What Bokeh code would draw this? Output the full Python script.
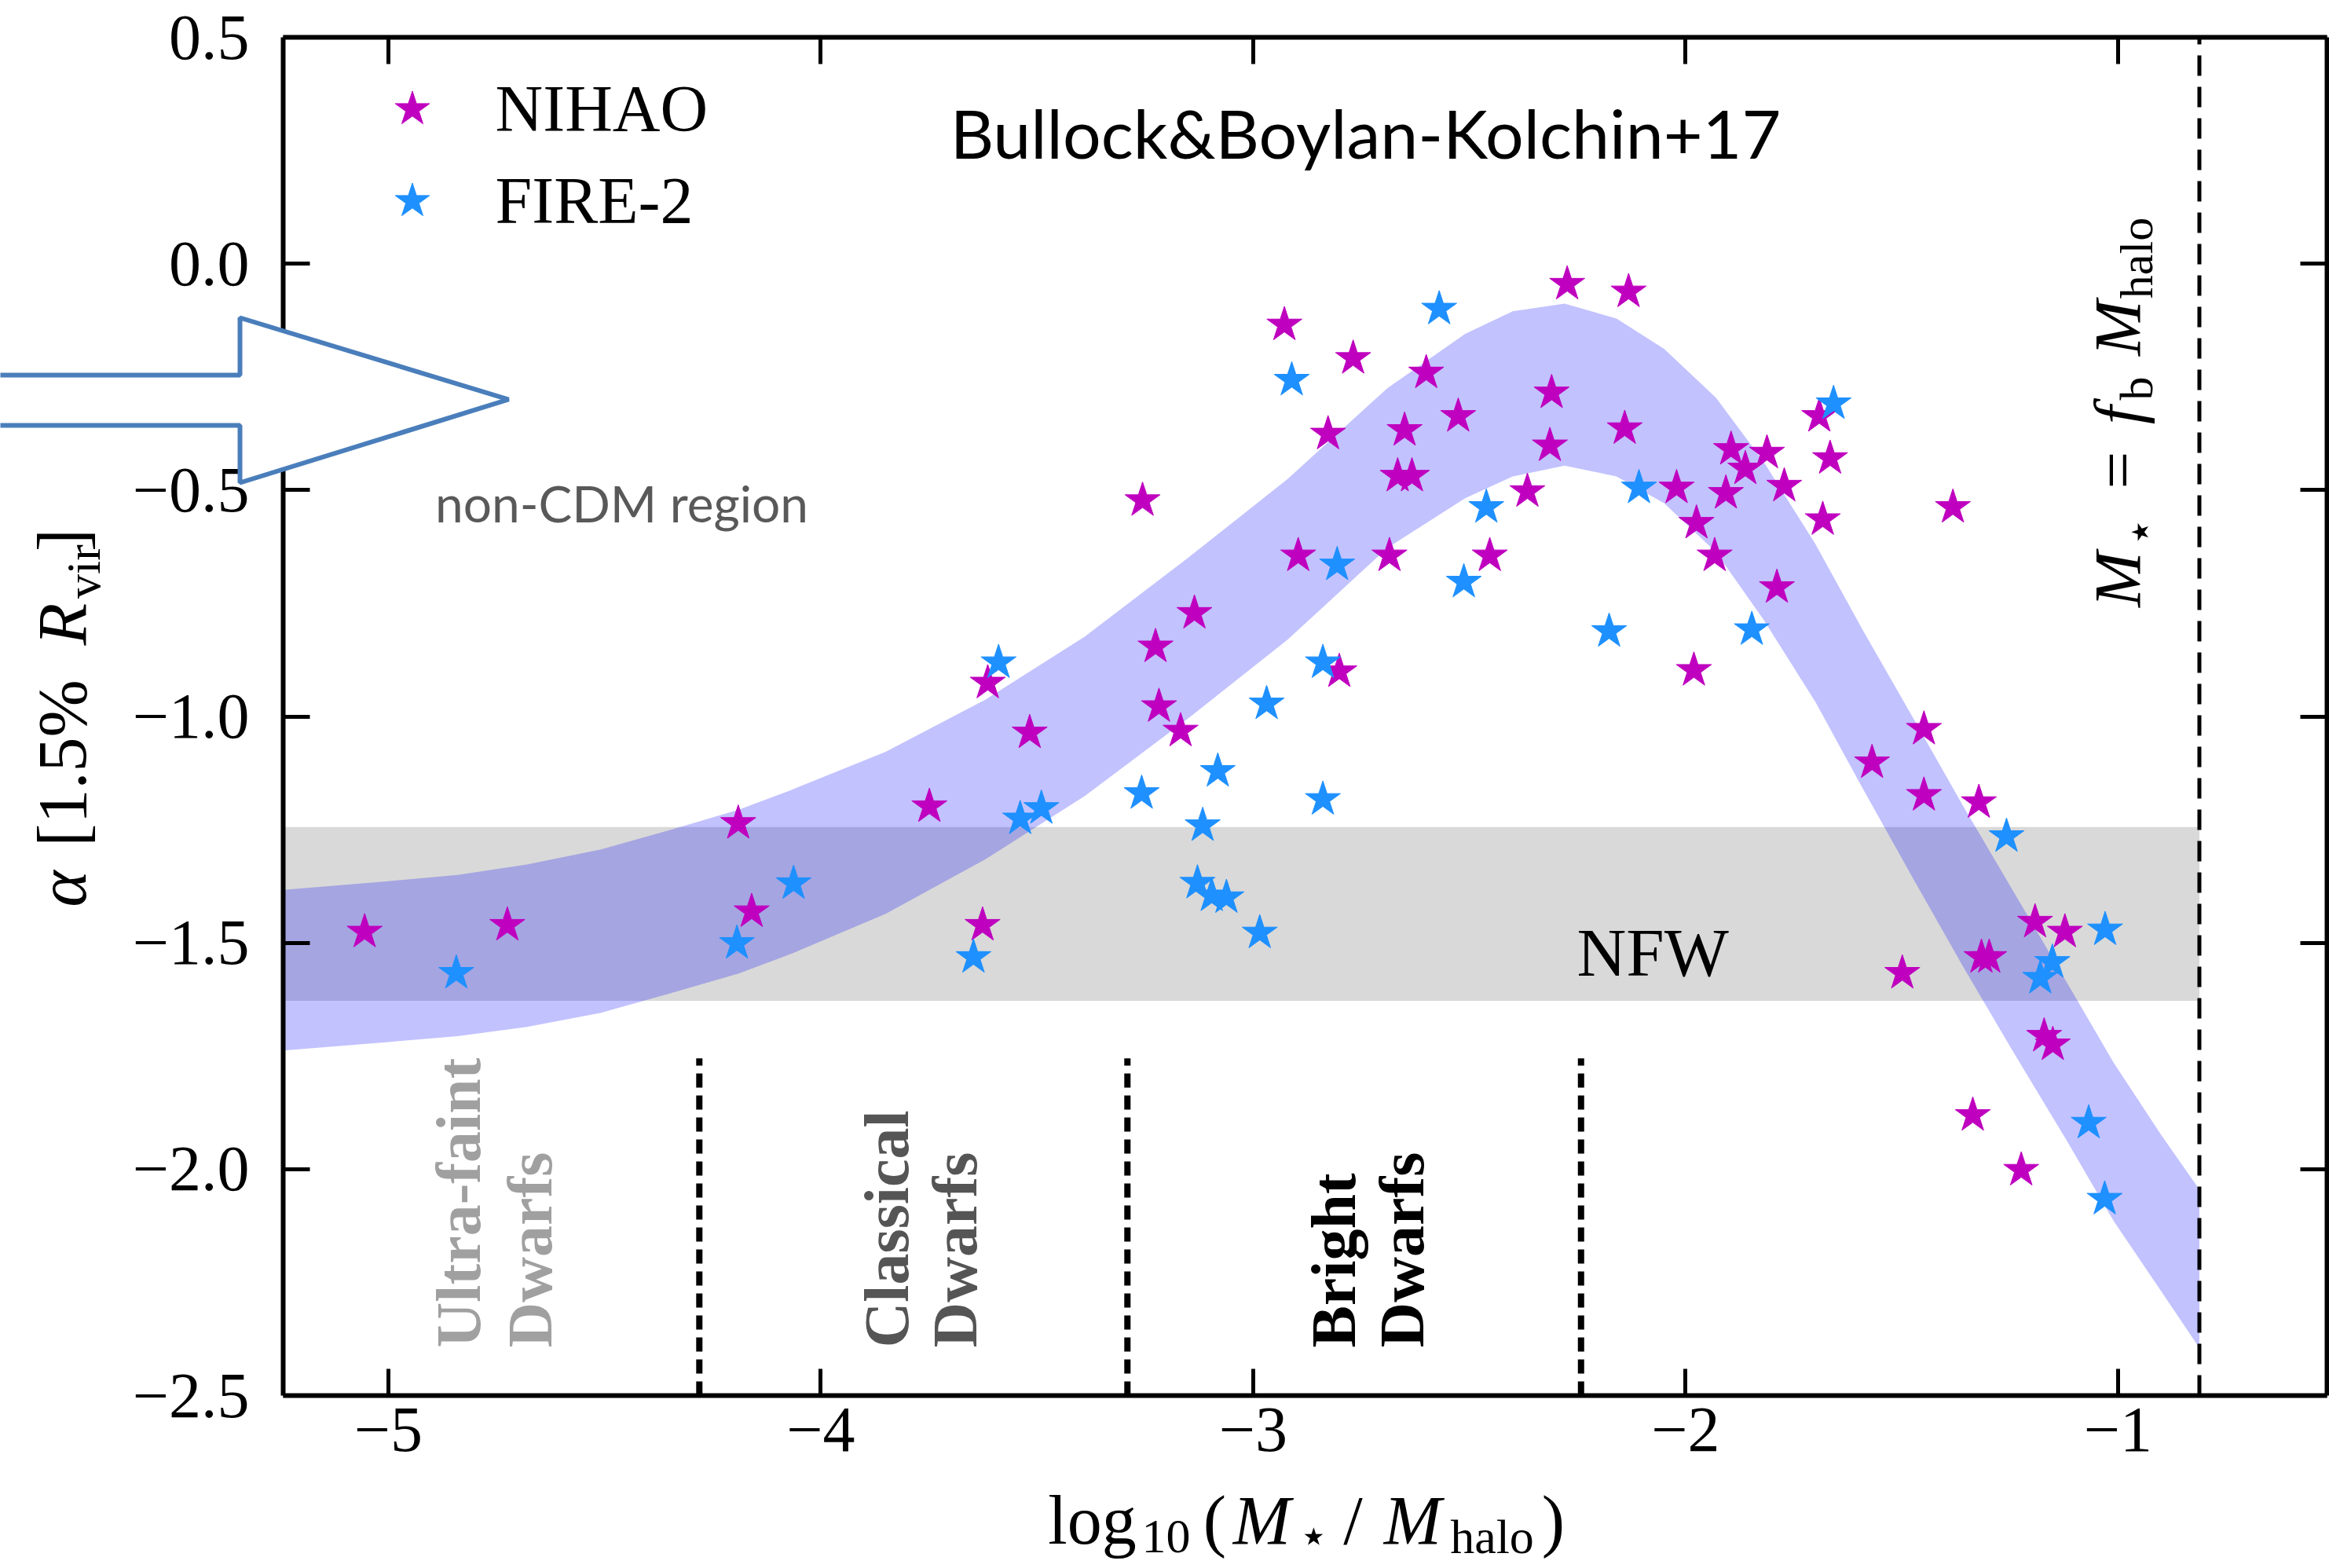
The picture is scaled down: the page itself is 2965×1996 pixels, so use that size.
import math
from bokeh.plotting import figure
from bokeh.models import (Range1d, LinearAxis, FixedTicker, Label, PolyAnnotation,
                          Legend, LegendItem)
from bokeh.embed import file_html
from bokeh.resources import INLINE

# ---------------- data ----------------
nihao_x = [-5.055, -4.725, -4.191, -4.160, -3.749, -3.626, -3.614, -3.517, -3.256, -3.226,
           -3.218, -3.168, -3.136, -2.928, -2.896, -2.827, -2.801, -2.769, -2.685, -2.666,
           -2.633, -2.650, -2.600, -2.526, -2.453, -2.366, -2.314, -2.310, -2.274, -2.141,
           -2.132, -2.021, -1.981, -1.975, -1.933, -1.895, -1.862, -1.907, -1.812, -1.789,
           -1.772, -1.691, -1.683, -1.666, -1.569, -1.499, -1.449, -1.449, -1.382, -1.336,
           -1.322, -1.316, -1.298, -1.224, -1.192, -1.171, -1.151, -1.123]
nihao_y = [-1.476, -1.461, -1.236, -1.431, -1.199, -1.461, -0.926, -1.036, -0.523, -0.846,
           -0.978, -1.032, -0.772, -0.135, -0.645, -0.376, -0.901, -0.209, -0.645, -0.469,
           -0.469, -0.368, -0.241, -0.337, -0.645, -0.503, -0.402, -0.285, -0.045, -0.364,
           -0.062, -0.495, -0.898, -0.573, -0.645, -0.410, -0.453, -0.507, -0.418, -0.715,
           -0.491, -0.337, -0.565, -0.430, -1.102, -1.567, -1.028, -1.174, -0.538, -1.881,
           -1.190, -1.532, -1.532, -2.002, -1.454, -1.706, -1.725, -1.476]

fire_x = [-4.843, -4.194, -4.063, -3.647, -3.589, -3.539, -3.490, -3.258, -3.129, -3.117,
          -3.096, -3.082, -3.062, -2.985, -2.969, -2.911, -2.839, -2.839, -2.806, -2.570,
          -2.513, -2.461, -2.177, -2.108, -1.847, -1.658, -1.258, -1.180, -1.152, -1.068,
          -1.031, -1.030]
fire_y = [-1.567, -1.501, -1.369, -1.532, -0.881, -1.226, -1.203, -1.170, -1.368, -1.241,
          -1.396, -1.121, -1.400, -1.478, -0.972, -0.257, -0.881, -1.183, -0.665, -0.100,
          -0.703, -0.538, -0.812, -0.495, -0.808, -0.309, -1.265, -1.578, -1.543, -1.898,
          -2.066, -1.471]

band_x = [-5.243, -5.00, -4.84, -4.68, -4.51, -4.35, -4.19, -4.07, -3.85, -3.62,
          -3.39, -3.15, -2.92, -2.69, -2.51, -2.40, -2.28, -2.16, -2.05, -1.93,
          -1.82, -1.70, -1.59, -1.47, -1.36, -1.24, -1.12, -1.01, -0.90, -0.812]
band_upper = [-1.383, -1.364, -1.350, -1.327, -1.294, -1.251, -1.206, -1.163, -1.078, -0.963,
              -0.824, -0.649, -0.475, -0.275, -0.155, -0.105, -0.088, -0.121, -0.188, -0.296,
              -0.437, -0.619, -0.810, -1.010, -1.195, -1.390, -1.585, -1.765, -1.925, -2.045]
band_lower = [-1.738, -1.719, -1.706, -1.686, -1.655, -1.612, -1.568, -1.525, -1.436, -1.316,
              -1.176, -1.004, -0.830, -0.628, -0.518, -0.470, -0.446, -0.470, -0.529, -0.637,
              -0.786, -0.968, -1.160, -1.365, -1.550, -1.745, -1.935, -2.115, -2.270, -2.395]

nfw_range = [-1.628, -1.244]
nfw_x_range = [-5.243, -0.812]
region_bounds = [-4.281, -3.291, -2.242]
region_top = -1.755
fb_line = -0.812

x_limits = [-5.2434, -0.5168]
y_limits = [-2.5, 0.5]
x_ticks = [-5, -4, -3, -2, -1]
x_tick_labels = ["\u22125", "\u22124", "\u22123", "\u22122", "\u22121"]
y_ticks = [0.5, 0.0, -0.5, -1.0, -1.5, -2.0, -2.5]
y_tick_labels = ["0.5", "0.0", "\u22120.5", "\u22121.0", "\u22121.5", "\u22122.0", "\u22122.5"]

series_names = ["NIHAO", "FIRE-2"]

# ---------------- layout (page pixels) ----------------
W, H = 2965, 1996
PX_X = 550.5                    # pixels per x unit
PX_Y = 1729 / 3.0               # pixels per y unit
XA = x_limits[0] - 360 / PX_X   # data x at the left edge of the canvas
YB = y_limits[1] + 47 / PX_Y    # data y at the top edge of the canvas
BASE_K = 0.36                   # alphabetic-baseline correction (fraction of font size)


def dx(px):
    return XA + px / PX_X


def dy(py):
    return YB - py / PX_Y


SERIF = "Liberation Serif"
SANS = "Lato"
MAGENTA = "#BF00BF"
DBLUE = "#1E90FF"

p = figure(width=W, height=H, x_range=Range1d(XA, XA + W / PX_X),
           y_range=Range1d(YB - H / PX_Y, YB), output_backend="svg",
           toolbar_location=None, min_border=0, min_border_left=0, min_border_right=0,
           min_border_top=0, min_border_bottom=0,
           x_axis_location=None, y_axis_location=None)
p.grid.visible = False
p.outline_line_color = None
p.background_fill_color = "white"
p.border_fill_color = "white"


def make_axis(ticks, labels, loc, bounds, show, standoff):
    ax = LinearAxis(fixed_location=loc, bounds=tuple(bounds))
    ax.ticker = FixedTicker(ticks=ticks)
    ax.major_label_overrides = {t: l for t, l in zip(ticks, labels)}
    ax.axis_line_color = "black"
    ax.axis_line_width = 6
    ax.major_tick_in = 34
    ax.major_tick_out = 0
    ax.major_tick_line_width = 5
    ax.major_tick_line_color = "black"
    ax.minor_tick_line_color = None
    ax.major_label_text_font = SERIF
    ax.major_label_text_font_size = "82px"
    ax.major_label_standoff = standoff
    if show:
        ax.major_label_text_color = "black"
    else:
        ax.major_label_text_color = None
    return ax


p.add_layout(make_axis(x_ticks, x_tick_labels, y_limits[0], x_limits, True, 16), "below")
p.add_layout(make_axis(y_ticks, y_tick_labels, x_limits[0], y_limits, True, 43), "left")
p.add_layout(make_axis(x_ticks, x_tick_labels, y_limits[1], x_limits, False, 0), "above")
p.add_layout(make_axis(y_ticks, y_tick_labels, x_limits[1], y_limits, False, 0), "right")

# NFW band
p.varea(x=nfw_x_range, y1=[nfw_range[0]] * 2, y2=[nfw_range[1]] * 2,
        fill_color="#D9D9D9", fill_alpha=1.0)
# model band
p.varea(x=band_x, y1=band_lower, y2=band_upper, fill_color="#0000FF", fill_alpha=0.24)

# dashed lines
n_reg = len(region_bounds)
p.segment(x0=region_bounds, x1=region_bounds, y0=[y_limits[0]] * n_reg,
          y1=[region_top] * n_reg, line_color="black", line_width=8, line_dash="18 10")
p.segment(x0=[fb_line], x1=[fb_line], y0=[y_limits[0]], y1=[y_limits[1]],
          line_color="black", line_width=5, line_dash="26 14")

r1 = p.scatter(nihao_x, nihao_y, marker="star", size=47, fill_color=MAGENTA,
               line_color=MAGENTA, line_width=1)
r2 = p.scatter(fire_x, fire_y, marker="star", size=47, fill_color=DBLUE,
               line_color=DBLUE, line_width=1)

# legend: star centres at page (524,138)/(524,255), text starting at x=631
GL = 115
leg_left = 524 - GL / 2
leg_top = 138 - GL / 2
leg_h = 2 * GL + 2
legend = Legend(items=[LegendItem(label=series_names[0], renderers=[r1]),
                       LegendItem(label=series_names[1], renderers=[r2])],
                location=(leg_left, H - (leg_top + leg_h)), margin=0, padding=0, spacing=2,
                glyph_width=GL, glyph_height=GL, label_height=GL,
                label_standoff=int(631 - 524 - GL / 2), border_line_color=None,
                background_fill_alpha=0.0)
legend.label_text_font = SERIF
legend.label_text_font_size = "84px"
legend.label_text_color = "black"
p.add_layout(legend)


def hlabel(txt, cx, base_y, size, font=SERIF, style="normal", color="black", align="center"):
    p.add_layout(Label(x=dx(cx), y=dy(base_y - BASE_K * size), text=txt, text_font=font,
                       text_font_size=f"{size}px", text_font_style=style, text_color=color,
                       text_align=align, text_baseline="alphabetic"))


def vlabel(txt, base_x, cy, size, font=SERIF, style="normal", color="black", align="center"):
    p.add_layout(Label(x=dx(base_x - BASE_K * size), y=dy(cy), text=txt, angle=math.pi / 2,
                       text_font=font, text_font_size=f"{size}px", text_font_style=style,
                       text_color=color, text_align=align, text_baseline="alphabetic"))


# region labels (rotated, starting at the bottom)
region_labels = [("Ultra-faint", 612, "#A0A0A0"), ("Dwarfs", 703, "#A0A0A0"),
                 ("Classical", 1157, "#555555"), ("Dwarfs", 1244, "#555555"),
                 ("Bright", 1726, "black"), ("Dwarfs", 1813, "black")]
for txt, bx, col in region_labels:
    vlabel(txt, bx, 1715, 80, style="bold", color=col, align="left")

# NFW label
hlabel("NFW", 2007, 1243, 87, align="left")

# overlay texts
hlabel("Bullock&Boylan-Kolchin+17", 1738, 199, 86, font=SANS)
hlabel("non-CDM region", 791, 663, 64, font=SANS, color="#595959")

# block arrow
arrow_px = [-30, 305, 305, 647, 305, 305, -30]
arrow_py = [477, 477, 404, 508, 614, 541, 541]
p.add_layout(PolyAnnotation(xs=[dx(v) for v in arrow_px], ys=[dy(v) for v in arrow_py],
                            fill_color="white", fill_alpha=1.0, line_alpha=1.0,
                            line_color="#4A7EBB", line_width=6))

# x axis label pieces
xlab = [("log", 1390, 1967, 88, "normal"), ("10", 1484, 1978, 62, "normal"),
        ("(", 1546, 1967, 88, "normal"), ("M", 1606, 1967, 88, "italic"),
        ("\u22c6", 1672, 1977, 62, "normal"), ("/", 1722, 1967, 88, "normal"),
        ("M", 1798, 1967, 88, "italic"), ("halo", 1899, 1978, 62, "normal"),
        (")", 1977, 1967, 88, "normal")]
for txt, cx, by, sz, st in xlab:
    hlabel(txt, cx, by, sz, style=st)

# y axis label pieces (rotated)
ylab = [("\u03b1", 1131, 111, 88, "italic"), ("[1.5%", 971, 111, 88, "normal"),
        ("R", 794, 111, 88, "italic"), ("vir", 727, 128, 62, "normal"),
        ("]", 687, 111, 88, "normal")]
for txt, cy, bx, sz, st in ylab:
    vlabel(txt, bx, cy, sz, style=st)

# M* = fb Mhalo label (rotated)
fblab = [("M", 737, 2726, 85, "italic"), ("\u22c6", 676, 2745, 60, "normal"),
         ("=", 598, 2726, 85, "normal"), ("f", 528, 2726, 85, "italic"),
         ("b", 494, 2741, 60, "normal"), ("M", 417, 2726, 85, "italic"),
         ("halo", 328, 2741, 60, "normal")]
for txt, cy, bx, sz, st in fblab:
    vlabel(txt, bx, cy, sz, style=st)

open("out.html", "w").write(file_html(p, INLINE))
